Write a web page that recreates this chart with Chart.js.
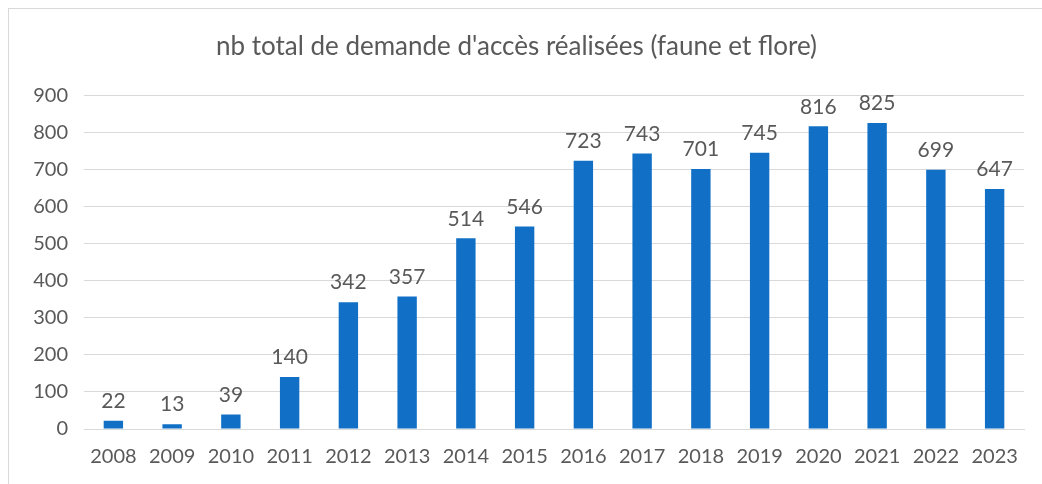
<!DOCTYPE html>
<html>
<head>
<meta charset="utf-8">
<script src="https://cdn.jsdelivr.net/npm/chart.js@4"></script>
<style>
  html, body { margin: 0; padding: 0; background: #fff; }
  #frame {
    position: absolute; left: 8px; top: 8px;
    width: 1034px; height: 476px;
    border-left: 1px solid #d9d9d9; border-top: 1px solid #d9d9d9;
  }
</style>
</head>
<body>
<div id="frame"><canvas id="chart" width="1033" height="475"></canvas></div>
<script>
"use strict"

var years = ['2008', '2009', '2010', '2011', '2012', '2013', '2014', '2015',
             '2016', '2017', '2018', '2019', '2020', '2021', '2022', '2023'];
var demandes = [22, 13, 39, 140, 342, 357, 514, 546, 723, 743, 701, 745, 816, 825, 699, 647];

var textColor = '#595959';
var fontFamily = 'Lato, "Open Sans", sans-serif';

// value labels above each bar
var barLabels = {
    id: 'barLabels',
    afterDatasetsDraw: function(chart) {
        var ctx = chart.ctx;
        var meta = chart.getDatasetMeta(0);
        ctx.save();
        ctx.fillStyle = textColor;
        ctx.font = '21px ' + fontFamily;
        ctx.textAlign = 'center';
        ctx.textBaseline = 'bottom';
        meta.data.forEach(function(bar, i) {
            ctx.fillText(chart.data.datasets[0].data[i], bar.x, bar.y - 9);
        });
        ctx.restore();
    }
};

new Chart(document.getElementById('chart'), {
    type: 'bar',
    data: {
        labels: years,
        datasets: [{
            data: demandes,
            backgroundColor: '#1170c6',
            categoryPercentage: 1.0,
            barPercentage: 0.33
        }]
    },
    plugins: [barLabels],
    options: {
        responsive: false,
        animation: false,
        layout: { padding: { right: 18, left: 0, top: 0, bottom: 0 } },
        plugins: {
            legend: { display: false },
            tooltip: { enabled: false },
            title: {
                display: true,
                text: "nb total de demande d'accès réalisées (faune et flore)",
                color: textColor,
                font: { family: fontFamily, size: 26, weight: 'normal' },
                padding: { top: 22, bottom: 33 }
            }
        },
        scales: {
            x: {
                grid: { display: false },
                border: { color: '#d9d9d9' },
                ticks: { color: textColor, font: { family: fontFamily, size: 20 }, padding: 8 },
                afterFit: function(scale) { scale.height = 55; }
            },
            y: {
                min: 0, max: 900,
                ticks: { stepSize: 100, color: textColor, font: { family: fontFamily, size: 20 }, padding: 16 },
                grid: { color: '#d9d9d9', drawTicks: false },
                border: { display: false },
                afterFit: function(scale) { scale.width = 75; }
            }
        }
    }
});
</script>
</body>
</html>
